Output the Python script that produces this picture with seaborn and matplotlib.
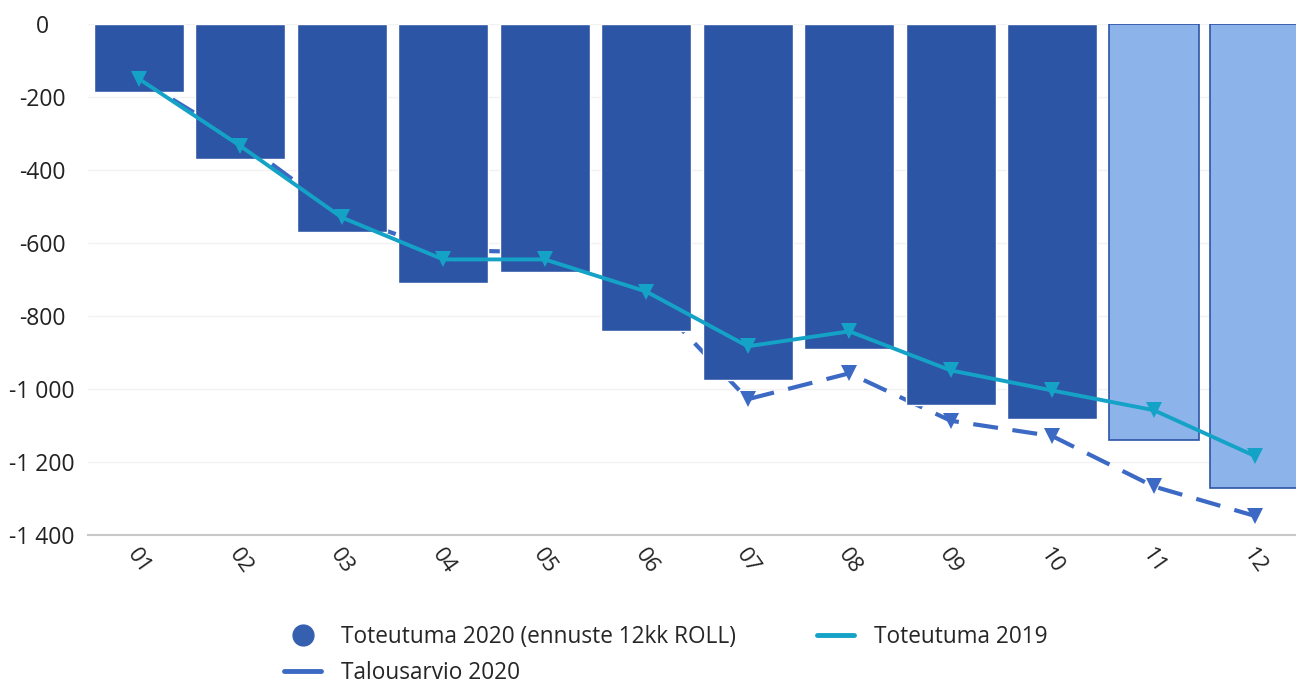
import numpy as np
import pandas as pd
import matplotlib
matplotlib.use("Agg")
import matplotlib.pyplot as plt
from matplotlib.lines import Line2D
from matplotlib.ticker import FuncFormatter, MultipleLocator
import seaborn as sns

# data
months = ["01", "02", "03", "04", "05", "06", "07", "08", "09", "10", "11", "12"]
toteutuma_2020 = [-186, -370, -570, -710, -680, -840, -975, -891, -1045, -1083, -1140, -1271]
is_forecast = [False] * 10 + [True] * 2
talousarvio_2020 = [-150, -320, -525, -620, -625, -735, -1028, -957, -1087, -1129, -1267, -1348]
toteutuma_2019 = [-150, -334, -530, -645, -645, -733, -883, -842, -949, -1004, -1058, -1184]

dark_blue = "#2d55a6"
light_blue = "#8db4ea"
dash_blue = "#3c69c4"
cyan = "#14a3c7"

sns.set_theme(style="white")
plt.rcParams["font.family"] = ["Open Sans", "DejaVu Sans"]

df = pd.DataFrame({"month": months, "value": toteutuma_2020,
                   "kind": ["ennuste" if f else "toteutuma" for f in is_forecast]})
pos = np.arange(len(months))

fig = plt.figure(figsize=(12.96, 6.83), dpi=100)
ax = fig.add_axes([88 / 1296, (683 - 535) / 683, 1218 / 1296, 511 / 683])

# dashed budget line sits behind the bars
sns.lineplot(x=pos, y=talousarvio_2020, ax=ax, color=dash_blue, linewidth=3,
             marker="v", markersize=12, markeredgewidth=0, zorder=1)
ax.lines[-1].set_dashes([6, 3.5])

sns.barplot(data=df, x="month", y="value", hue="kind", ax=ax, width=0.89,
            palette={"toteutuma": dark_blue, "ennuste": light_blue},
            legend=False, saturation=1, zorder=2)
for patch in ax.patches:
    if patch.get_facecolor()[:3] == matplotlib.colors.to_rgb(light_blue):
        patch.set_edgecolor(dark_blue)
        patch.set_linewidth(1.2)
    patch.set_zorder(2)

# 2019 line drawn over the bars
sns.lineplot(x=pos, y=toteutuma_2019, ax=ax, color=cyan, linewidth=2.8,
             marker="v", markersize=12, markeredgewidth=0, zorder=3)

ax.set_xlim(-0.5, 11.5)
ax.set_ylim(-1400, 0)
ax.yaxis.set_major_locator(MultipleLocator(200))
ax.yaxis.set_major_formatter(FuncFormatter(lambda v, p: f"{int(v):,}".replace(",", " ")))
ax.grid(axis="y", color="#f2f2f2", linewidth=1)
ax.set_axisbelow(True)
ax.set_xlabel("")
ax.set_ylabel("")

for s in ["top", "right", "left"]:
    ax.spines[s].set_visible(False)
ax.spines["bottom"].set_color("#c8c8c8")
ax.spines["bottom"].set_linewidth(1.5)

ax.tick_params(axis="y", length=0, pad=33, labelsize=16.5, labelcolor="#222222")
for lab in ax.get_yticklabels():
    lab.set_horizontalalignment("center")

ax.set_xticks(pos)
ax.set_xticklabels(months, rotation=-55, ha="center", va="top")
ax.tick_params(axis="x", length=0, pad=7, labelsize=16, labelcolor="#222222")
ax.set_xticks(np.arange(-0.5, 11.6, 1), minor=True)
ax.tick_params(axis="x", which="minor", length=7, width=1.5, color="#c8c8c8", direction="out")

handles = [
    Line2D([], [], marker="o", linestyle="none", markersize=15, color="#3560b0"),
    Line2D([], [], color=dash_blue, linewidth=3.5),
    Line2D([], [], color=cyan, linewidth=3.5),
]
labels = ["Toteutuma 2020 (ennuste 12kk ROLL)", "Talousarvio 2020", "Toteutuma 2019"]
fig.legend(handles, labels, ncol=2, loc="center", bbox_to_anchor=(666 / 1296, 1 - 655 / 683),
           frameon=False, fontsize=16.3, handlelength=1.6, columnspacing=3.6,
           labelspacing=0.55, handletextpad=0.9)

fig.savefig("out.png", dpi=100)
